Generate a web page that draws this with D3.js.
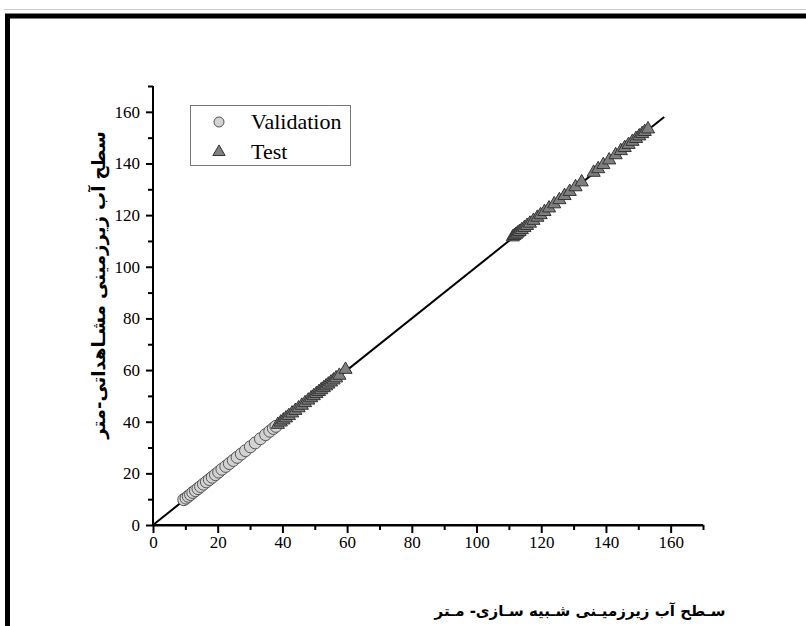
<!DOCTYPE html>
<html>
<head>
<meta charset="utf-8">
<script src="https://cdn.jsdelivr.net/npm/d3@7"></script>
<style>
  html, body { margin: 0; padding: 0; background: #fff; }
  svg { display: block; }
</style>
</head>
<body>
<svg id="chart" width="806" height="626"></svg>
<script>
// ---- data ----
const xTicks = [0, 20, 40, 60, 80, 100, 120, 140, 160];
const yTicks = [0, 20, 40, 60, 80, 100, 120, 140, 160];
const minorTicks = [10, 30, 50, 70, 90, 110, 130, 150, 170];
const seriesNames = ["Validation", "Test"];
const validationSim = [9.5, 10.2, 10.9, 11.6, 12.3, 13.1, 13.9, 14.7, 15.6, 16.5, 17.4, 18.3, 19.3, 20.3, 21.3, 22.5, 23.6, 24.8, 26.0, 27.3, 28.6, 30.1, 31.6, 33.2, 34.8, 36.1, 37.2, 38.0];
const validationObs = [9.8, 10.4, 11.1, 11.8, 12.6, 13.3, 14.1, 14.9, 15.8, 16.7, 17.6, 18.5, 19.5, 20.5, 21.6, 22.7, 23.8, 25.0, 26.2, 27.5, 28.8, 30.3, 31.8, 33.4, 35.0, 36.3, 37.4, 38.2];
const testSim = [38.6, 39.5, 40.3, 41.1, 42.0, 43.0, 44.0, 45.0, 46.0, 47.0, 48.0, 48.9, 49.7, 50.5, 51.3, 52.0, 52.8, 53.5, 54.2, 55.0, 55.8, 56.6, 57.6, 59.5,
  111.2, 111.7, 112.2, 112.7, 113.3, 114.0, 114.8, 115.6, 116.5, 117.6, 118.8, 119.8, 121.0, 122.4, 124.0, 125.6, 127.2, 128.8, 130.6, 132.5, 136.2, 137.6, 139.2, 141.0, 143.0, 144.6, 145.8, 147.0, 148.2, 149.3, 150.3, 151.2, 152.0, 153.0];
const testObs = [38.9, 39.8, 40.6, 41.4, 42.3, 43.3, 44.3, 45.3, 46.3, 47.3, 48.3, 49.2, 50.0, 50.8, 51.6, 52.3, 53.1, 53.8, 54.5, 55.3, 56.1, 56.9, 57.9, 60.2,
  111.5, 112.0, 112.5, 113.0, 113.6, 114.3, 115.1, 115.9, 116.8, 117.9, 119.1, 120.1, 121.3, 122.7, 124.3, 125.9, 127.5, 129.1, 130.9, 132.8, 136.5, 137.9, 139.5, 141.3, 143.3, 144.9, 146.1, 147.3, 148.5, 149.6, 150.6, 151.5, 152.3, 153.3];
const fitLine = [0, 158];
const xTitle = "سـطح آب زیرزمیـنی شـبیه سـازی- مـتر";
const yTitle = "سطح آب زیرزمینی مشـاهداتی-متر";

// ---- drawing ----
const svg = d3.select("#chart");

// outer frame
svg.append("line").attr("x1", 4).attr("x2", 806).attr("y1", 9.5).attr("y2", 9.5)
  .attr("stroke", "#ccc").attr("stroke-width", 1);
svg.append("rect").attr("x", 7.5).attr("y", 16).attr("width", 820).attr("height", 640)
  .attr("fill", "none").attr("stroke", "#000").attr("stroke-width", 5);

const x = d3.scaleLinear().domain([0, 170]).range([153, 703]);
const y = d3.scaleLinear().domain([0, 170]).range([525, 86]);

const fontSerif = "Liberation Serif, Times New Roman, serif";

// x axis
const gx = svg.append("g").attr("transform", "translate(0,525)");
gx.call(d3.axisBottom(x).tickValues(xTicks).tickSize(8).tickSizeOuter(0).tickPadding(3).tickFormat(d3.format("d")));
gx.append("g").call(d3.axisBottom(x).tickValues(minorTicks).tickSize(5).tickSizeOuter(0).tickFormat(""));
gx.selectAll("path.domain").attr("stroke-width", 2).attr("stroke", "#000");
gx.selectAll(".tick line").attr("stroke-width", 2).attr("stroke", "#000");
gx.selectAll("text").attr("font-family", fontSerif).attr("font-size", 17).attr("fill", "#000");
gx.select("path.domain").attr("d", `M${x(0)},0H${x(170)}`);

// y axis
const gy = svg.append("g").attr("transform", "translate(153,0)");
gy.call(d3.axisLeft(y).tickValues(yTicks).tickSize(7).tickSizeOuter(0).tickPadding(6).tickFormat(d3.format("d")));
gy.append("g").call(d3.axisLeft(y).tickValues(minorTicks).tickSize(5).tickSizeOuter(0).tickFormat(""));
gy.selectAll("path.domain").attr("stroke-width", 2).attr("stroke", "#000");
gy.selectAll(".tick line").attr("stroke-width", 2).attr("stroke", "#000");
gy.selectAll("text").attr("font-family", fontSerif).attr("font-size", 17).attr("fill", "#000");
gy.selectAll("path.domain").attr("d", `M0,${y(0)}V${y(170)}`);

// fit line
svg.append("line")
  .attr("x1", x(fitLine[0])).attr("y1", y(fitLine[0]))
  .attr("x2", x(fitLine[1])).attr("y2", y(fitLine[1]))
  .attr("stroke", "#000").attr("stroke-width", 2);

// validation circles
const vData = validationSim.map((d, i) => ({ x: d, y: validationObs[i] }));
svg.append("g").selectAll("circle").data(vData).join("circle")
  .attr("cx", d => x(d.x)).attr("cy", d => y(d.y)).attr("r", 6)
  .attr("fill", "#d3d3d3").attr("stroke", "#555").attr("stroke-width", 1);

// test triangles
const tData = testSim.map((d, i) => ({ x: d, y: testObs[i] }));
const tri = d3.symbol().type(d3.symbolTriangle).size(75);
svg.append("g").selectAll("path").data(tData).join("path")
  .attr("d", tri)
  .attr("transform", d => `translate(${x(d.x)},${y(d.y)})`)
  .attr("fill", "#7f7f7f").attr("stroke", "#333").attr("stroke-width", 1);

// legend
const lg = svg.append("g");
lg.append("rect").attr("x", 190.5).attr("y", 105.5).attr("width", 160).attr("height", 60)
  .attr("fill", "#fff").attr("stroke", "#777").attr("stroke-width", 1);
lg.append("circle").attr("cx", 219).attr("cy", 122).attr("r", 5)
  .attr("fill", "#d3d3d3").attr("stroke", "#555").attr("stroke-width", 1);
lg.append("path").attr("d", d3.symbol().type(d3.symbolTriangle).size(65)).attr("transform", "translate(219,152)")
  .attr("fill", "#7f7f7f").attr("stroke", "#333").attr("stroke-width", 1);
lg.selectAll("text.lt").data(seriesNames).join("text").attr("class", "lt")
  .attr("x", 251).attr("y", (d, i) => 129 + i * 30)
  .attr("font-family", fontSerif).attr("font-size", 22).attr("fill", "#000")
  .text(d => d);

// axis titles
svg.append("text")
  .attr("x", 580).attr("y", 616)
  .attr("text-anchor", "middle")
  .attr("direction", "rtl")
  .attr("font-family", "DejaVu Sans, sans-serif")
  .attr("font-weight", "bold").attr("font-size", 15).attr("fill", "#000")
  .text(xTitle);

svg.append("text")
  .attr("transform", "translate(105,285) rotate(-90)")
  .attr("text-anchor", "middle")
  .attr("direction", "rtl")
  .attr("font-family", "DejaVu Sans, sans-serif")
  .attr("font-weight", "bold").attr("font-size", 18).attr("fill", "#000")
  .text(yTitle);
</script>
</body>
</html>
